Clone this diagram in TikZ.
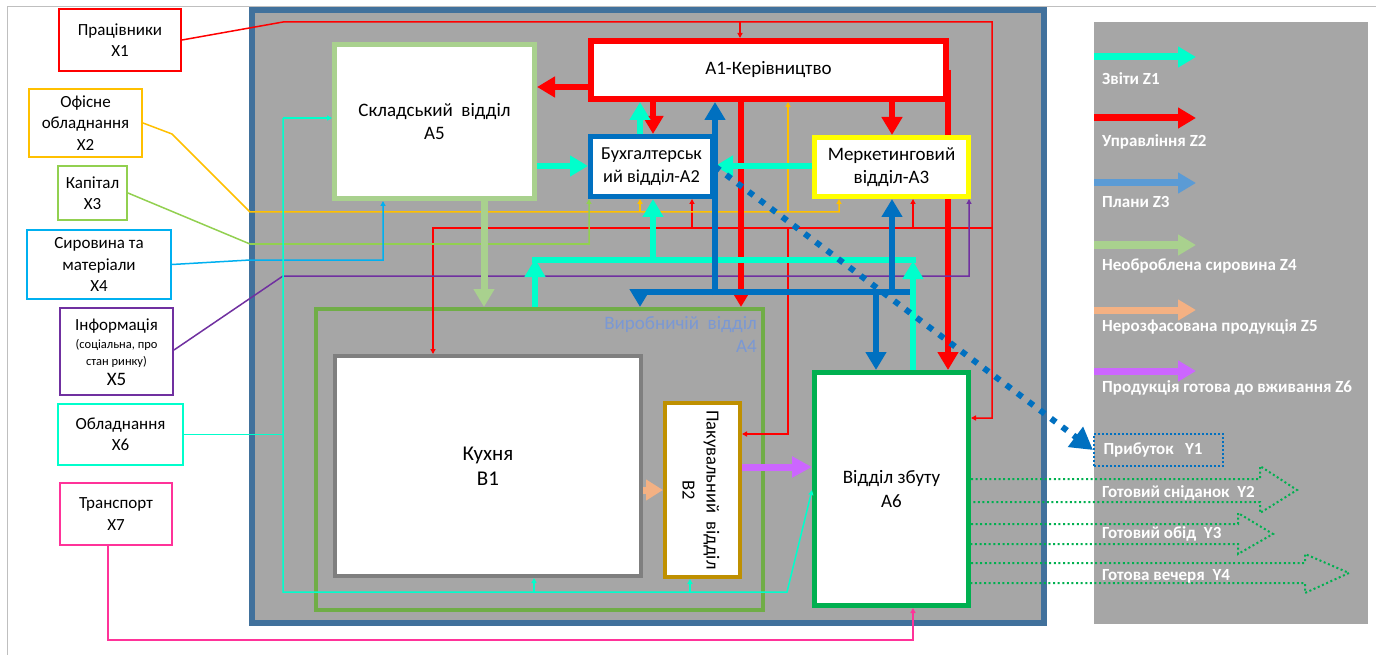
\documentclass[tikz,border=0pt]{standalone}
\usepackage{fontspec}
\setmainfont{Carlito}
\usetikzlibrary{arrows.meta}
\pgfdeclarelayer{backlayer}
\pgfdeclarelayer{midlayer}
\pgfsetlayers{backlayer,midlayer,main}
\definecolor{frameblue}{RGB}{65,113,156}
\definecolor{bg}{RGB}{166,166,166}
\definecolor{zcyan}{RGB}{0,255,204}
\definecolor{zblue}{RGB}{91,155,213}
\definecolor{zgreen}{RGB}{169,209,142}
\definecolor{zpeach}{RGB}{244,177,131}
\definecolor{zviolet}{RGB}{204,102,255}
\definecolor{dblue}{RGB}{0,112,192}
\definecolor{a4green}{RGB}{112,173,71}
\definecolor{a6green}{RGB}{0,176,80}
\definecolor{b1gray}{RGB}{127,127,127}
\definecolor{b2gold}{RGB}{191,144,0}
\definecolor{xorange}{RGB}{255,192,0}
\definecolor{xgreen}{RGB}{146,208,80}
\definecolor{xblue}{RGB}{0,176,240}
\definecolor{xpurple}{RGB}{112,48,160}
\definecolor{xpink}{RGB}{255,51,153}
\definecolor{a4text}{RGB}{122,152,212}
\definecolor{yellowb}{RGB}{255,255,0}
\begin{document}
\begin{tikzpicture}[x=1pt,y=-1pt,
  every node/.style={font=\fontsize{17}{21.5}\selectfont, inner sep=0pt},
  box/.style={draw, fill=white, align=center},
  mainfont/.style={font=\fontsize{19}{23.5}\selectfont},
  smallmain/.style={font=\fontsize{18.3}{23}\selectfont},
  conn/.style={line width=1.5pt},
  tinyhead/.style={-{Triangle[length=5pt,width=5pt]}},
  fatarrow/.style={line width=6pt, -{Triangle[length=18pt,width=20pt]}},
  fatline/.style={line width=6pt},
  legarrow/.style={line width=7pt, -{Triangle[length=18pt,width=20pt]}},
  legtext/.style={text=white, font=\bfseries\fontsize{17}{20}\selectfont},
  gdot/.style={draw=a6green, line width=2pt, dash pattern=on 2pt off 2.6pt}
]
\useasboundingbox (0,0) rectangle (1376,655);
\begin{pgfonlayer}{backlayer}
\fill[white] (0,0) rectangle (1376,655);
% page frame
\draw[black!25, line width=1pt] (7,655) -- (7,7) -- (1376,7);
% main frame
\draw[frameblue, fill=bg, line width=6pt] (252,10) rectangle (1044,623);
% legend panel
\fill[bg] (1094,22) rectangle (1368,624);
\end{pgfonlayer}

% ---- main boxes ----
\node[box, mainfont, draw=zgreen, line width=5pt, minimum width=200pt, minimum height=154pt] (a5) at (434.5,121.5) {Складський\ \ відділ\\A5};
\node[box, mainfont, draw=red, line width=6pt, minimum width=355pt, minimum height=58pt] (a1) at (768.5,70) {A1-Керівництво};
\node[box, smallmain, draw=dblue, line width=5pt, minimum width=122pt, minimum height=60pt] (a2) at (651.5,166.5) {Бухгалтерськ\\ий відділ-A2};
\node[box, mainfont, draw=yellowb, line width=5pt, minimum width=154pt, minimum height=59pt] (a3) at (891.5,167) {Меркетинговий\\відділ-A3};
\node[draw=a4green, line width=4pt, minimum width=447pt, minimum height=301pt] (a4) at (539.5,459.5) {};
\node[mainfont, anchor=north east, align=right, text=a4text] (a4l) at (757,316) {Виробничій\ \ відділ\\A4};
\node[box, font=\fontsize{21}{25}\selectfont, draw=b1gray, line width=4pt, minimum width=306pt, minimum height=220pt] (b1) at (488,466) {Кухня\\B1};
\node[box, draw=b2gold, line width=4pt, minimum width=75pt, minimum height=174pt] (b2) at (702.5,490) {};
\node[rotate=-90, align=center, font=\fontsize{18.5}{24}\selectfont] (b2t) at (701,490) {Пакувальний\ \ відділ\\B2};
\node[box, mainfont, draw=a6green, line width=5pt, minimum width=154pt, minimum height=233pt] (a6) at (891.5,489) {Відділ збуту\\A6};

% ---- inputs ----
\node[box, draw=red, line width=2pt, minimum width=122pt, minimum height=62pt] (x1) at (120,40) {Працівники\\X1};
\node[box, draw=xorange, line width=2pt, minimum width=113pt, minimum height=68pt] (x2) at (85.5,123) {Офісне\\обладнання\\X2};
\node[box, draw=xgreen, line width=2pt, minimum width=69pt, minimum height=54pt] (x3) at (92.5,193) {Капітал\\X3};
\node[box, draw=xblue, line width=2pt, minimum width=144pt, minimum height=69pt] (x4) at (99,264.5) {Сировина та\\матеріали\\X4};
\node[box, draw=xpurple, line width=2pt, minimum width=113pt, minimum height=87pt] (x5) at (116.5,351.5) {};
\node[align=center] (x5t) at (116.5,352) {Інформація\\[-3pt]{\fontsize{12.5}{16}\selectfont (соціальна, про}\\[-5pt]{\fontsize{12.5}{16}\selectfont стан ринку)}\\[-1pt]{\fontsize{19}{21}\selectfont X5}};
\node[box, draw=zcyan, line width=2pt, minimum width=125pt, minimum height=61pt] (x6) at (120.5,434.5) {Обладнання\\X6};
\node[box, draw=xpink, line width=2pt, minimum width=112pt, minimum height=62pt] (x7) at (116,514) {Транспорт\\X7};

% red line passing behind A3
\begin{pgfonlayer}{midlayer}
\draw[fatarrow, red] ([xshift=-1pt]a1.east) -- (a6.north -| 948,0);
\end{pgfonlayer}

% ---- thin connectors ----
% X1 (red)
\draw[conn, red, tinyhead] (x1.east) -- (283,22) -- (992,22) -- (992,418) -- (a6.east |- 0,418);
\draw[conn, red, tinyhead] (740,22) -- (a1.north -| 740,0);
\draw[conn, red, tinyhead] (992,228) -- (433,228) -- (b1.north -| 433,0);
\draw[conn, red, tinyhead] (692,228) -- (a2.south -| 692,0);
\draw[conn, red, tinyhead] (913,228) -- (a3.south -| 913,0);
\draw[conn, red, tinyhead] (788,228) -- (788,434) -- (b2.east |- 0,434);
% X2 (orange)
\draw[conn, xorange, tinyhead] (x2.east) -- (172,134) -- (250,212) -- (839,212) -- (a3.south -| 839,0);
\draw[conn, xorange, tinyhead] (640,212) -- (a2.south -| 640,0);
\draw[conn, xorange, tinyhead] (788,212) -- (a1.south -| 788,0);
% X3 (green)
\draw[conn, xgreen, tinyhead] (x3.east) -- (250,244) -- (589,244) -- (a2.south -| 589,0);
% X4 (blue)
\draw[conn, xblue, tinyhead] (x4.east) -- (250,260) -- (383,260) -- (a5.south -| 383,0);
% X5 (purple)
\draw[conn, xpurple, tinyhead] (x5.east |- 0,350) -- (283,276) -- (969,276) -- (a3.south -| 969,0);
% X6 (cyan)
\draw[conn, zcyan] (x6.east) -- (283,434.5);
\draw[conn, zcyan, tinyhead] (283,118) -- (a5.west |- 0,118);
\draw[conn, zcyan, tinyhead] (283,118) -- (283,592) -- (787,592) -- (a6.west |- 0,490);
\draw[conn, zcyan, tinyhead] (534,592) -- (b1.south -| 534,0);
\draw[conn, zcyan, tinyhead] (690,592) -- (b2.south -| 690,0);
% X7 (pink)
\draw[conn, xpink, tinyhead] (x7.south -| 108,0) -- (108,640) -- (913,640) -- (a6.south -| 913,0);

% ---- thick flows ----
\draw[fatarrow, red] (a1.west |- 0,87) -- (a5.east |- 0,87);
\draw[fatarrow, red] (a1.south -| 653,0) -- (a2.north -| 653,0);
\draw[fatarrow, zcyan] (a2.north -| 640,0) -- (a1.south -| 640,0);
\draw[fatarrow, red] (a1.south -| 741,0) -- (a4.north -| 741,0);
\draw[fatarrow, red] (a1.south -| 892,0) -- (a3.north -| 892,0);
\draw[fatarrow, zcyan] (a5.east |- 0,166) -- (a2.west |- 0,166);
\draw[fatarrow, zcyan] (a3.west |- 0,166) -- (a2.east |- 0,166);
% cyan collector
\draw[fatline, zcyan] (532,260) -- (916,260);
\draw[fatarrow, zcyan] (a4.north -| 535,0) -- (535,259);
\draw[fatarrow, zcyan] (653,260) -- (a2.south -| 653,0);
\draw[fatarrow, zcyan] (a6.north -| 913,0) -- (913,261);
% blue plans
\draw[fatline, dblue] (637,292) -- (910,292);
\draw[fatarrow, dblue] (715,295) -- (a1.south -| 715,0);
\draw[fatarrow, dblue] (640,289) -- (a4.north -| 640,0);
\draw[fatarrow, dblue] (876,292) -- (a6.north -| 876,0);
\draw[fatarrow, dblue] (892,295) -- (a3.south -| 892,0);
% raw material
\draw[line width=7pt, zgreen, -{Triangle[length=18pt,width=20pt]}] (a5.south -| 484,0) -- (a4.north -| 484,0);
% unpacked product
\draw[line width=7pt, zpeach, -{Triangle[length=17pt,width=20pt]}] (b1.east |- 0,490) -- (b2.west |- 0,490);
% ready product
\draw[line width=7pt, zviolet, -{Triangle[length=20pt,width=20pt]}] (b2.east |- 0,467) -- (a6.west |- 0,467);

% ---- legend ----
\draw[legarrow, zcyan] (1094,57) -- (1196,57);
\node[legtext, anchor=west] (l1) at (1102,79) {Звіти Z1};
\draw[legarrow, red] (1094,118) -- (1196,118);
\node[legtext, anchor=west] (l2) at (1102,142) {Управління Z2};
\draw[legarrow, zblue] (1094,183) -- (1196,183);
\node[legtext, anchor=west] (l3) at (1102,202) {Плани Z3};
\draw[legarrow, zgreen] (1094,245) -- (1196,245);
\node[legtext, anchor=west] (l4) at (1102,266) {Необроблена сировина Z4};
\draw[legarrow, zpeach] (1094,310) -- (1196,310);
\node[legtext, anchor=west] (l5) at (1102,327) {Нерозфасована продукція Z5};
\draw[legarrow, zviolet] (1094,371) -- (1196,371);
\node[legtext, anchor=west] (l6) at (1102,388) {Продукція готова до вживання Z6};

% ---- outputs ----
\node[legtext, draw=dblue, line width=2pt, dash pattern=on 2pt off 2pt, anchor=west, minimum width=129pt, minimum height=32pt, text width=110pt, inner xsep=9.5pt, align=left] (y1) at (1093,450) {Прибуток\ \ Y1};
\draw[dblue, line width=6pt, dash pattern=on 6pt off 8pt, -{Triangle[length=22pt,width=24pt]}] (a2.east) -- (y1.west);
\draw[gdot] (a6.east |- 0,479) -- (1260,479) -- (1260,466) -- (1297,490) -- (1260,513) -- (1260,502) -- (a6.east |- 0,502);
\node[legtext, anchor=west] (y2) at (1102,493) {Готовий сніданок\ \ Y2};
\draw[gdot] (a6.east |- 0,524) -- (1238,524) -- (1238,513) -- (1273,534) -- (1238,554) -- (1238,544) -- (a6.east |- 0,544);
\node[legtext, anchor=west] (y3) at (1102,534) {Готовий обід\ \ Y3};
\draw[gdot] (a6.east |- 0,563) -- (1305,563) -- (1305,554) -- (1349,573) -- (1305,593) -- (1305,583) -- (a6.east |- 0,583);
\node[legtext, anchor=west] (y4) at (1102,576) {Готова вечеря\ \ Y4};
\end{tikzpicture}
\end{document}
